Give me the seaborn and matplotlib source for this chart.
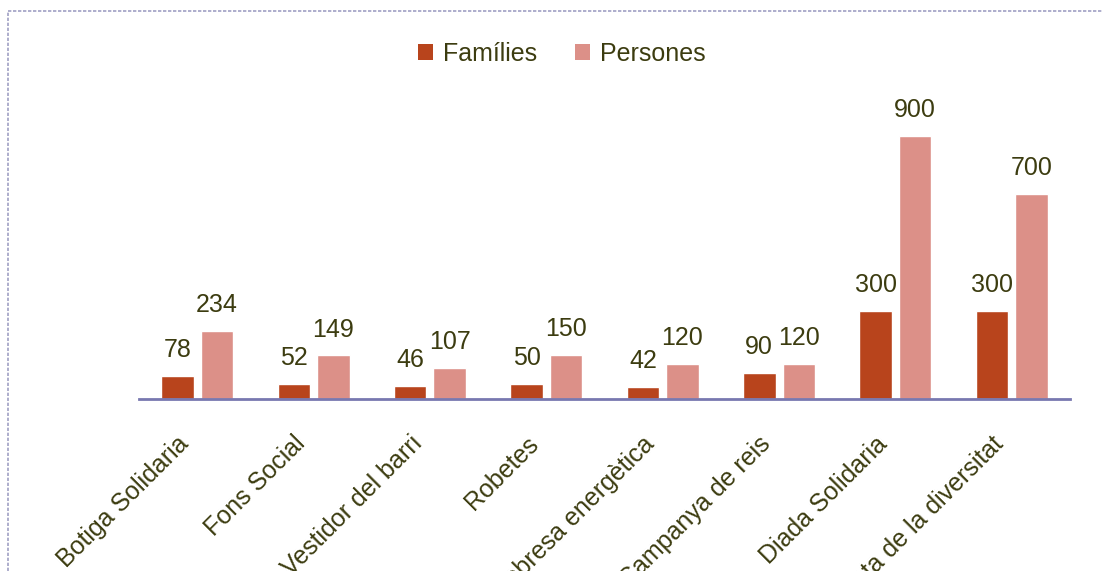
import matplotlib
matplotlib.use("Agg")
import matplotlib.pyplot as plt
from matplotlib.lines import Line2D
from matplotlib.patches import Patch
from matplotlib.transforms import ScaledTranslation
import seaborn as sns
import pandas as pd

# Activities and the people served by each one
categories = ["Botiga Solidaria", "Fons Social", "Vestidor del barri", "Robetes",
              "Pobresa energètica", "Campanya de reis", "Diada Solidaria",
              "Festa de la diversitat"]
families = [78, 52, 46, 50, 42, 90, 300, 300]
persons = [234, 149, 107, 150, 120, 120, 900, 700]
series_names = ["Famílies", "Persones"]

colors = {"Famílies": "#b8441c", "Persones": "#dc9088"}
text_color = "#3c3c10"

df = pd.DataFrame({
    "categoria": categories * 2,
    "serie": [series_names[0]] * len(categories) + [series_names[1]] * len(categories),
    "valor": families + persons,
})

sns.set_style("white")
plt.rcParams["font.family"] = ["Liberation Sans", "DejaVu Sans"]

fig = plt.figure(figsize=(11.03, 5.71), dpi=100)
ax = fig.add_axes([139 / 1103, 1 - 399 / 571, 931 / 1103, 292.5 / 571])

sns.barplot(data=df, x="categoria", y="valor", hue="serie", order=categories,
            hue_order=series_names, palette=colors, width=0.68, gap=0.18,
            saturation=1, legend=False, ax=ax)

ax.set_xlim(-0.5, len(categories) - 0.5)
ax.set_ylim(0, 1000)
ax.set_xlabel("")
ax.set_ylabel("")
ax.set_yticks([])

for cont in ax.containers:
    ax.bar_label(cont, labels=[f"{v:g}" for v in cont.datavalues], padding=10,
                 fontsize=18, color=text_color)

for side in ("top", "left", "right"):
    ax.spines[side].set_visible(False)
ax.spines["bottom"].set_color("#7878b0")
ax.spines["bottom"].set_linewidth(2)

ax.tick_params(axis="x", length=0, pad=0, labelsize=18, labelcolor=text_color)
ax.set_xticks(range(len(categories)))
ax.set_xticklabels(categories, rotation=45, rotation_mode="anchor",
                   ha="right", va="baseline")
shift = ScaledTranslation(-7 / 100, -46 / 100, fig.dpi_scale_trans)
for lab in ax.get_xticklabels():
    lab.set_transform(lab.get_transform() + shift)

handles = [Patch(facecolor=colors[s], edgecolor="none", label=s) for s in series_names]
fig.legend(handles=handles, loc="center", bbox_to_anchor=(562 / 1103, 1 - 54 / 571),
           ncol=2, frameon=False, fontsize=18, labelcolor=text_color,
           handlelength=0.6, handleheight=0.6, handletextpad=0.4,
           columnspacing=1.5)

# Frame around the chart area
border = dict(color="#a0a0c4", linewidth=1.2, linestyle=(0, (2, 1)))
fig.add_artist(Line2D([7.5 / 1103, 1], [1 - 11 / 571, 1 - 11 / 571],
                      transform=fig.transFigure, **border))
fig.add_artist(Line2D([7.5 / 1103, 7.5 / 1103], [0, 1 - 11 / 571],
                      transform=fig.transFigure, **border))

fig.savefig("out.png", dpi=100)
